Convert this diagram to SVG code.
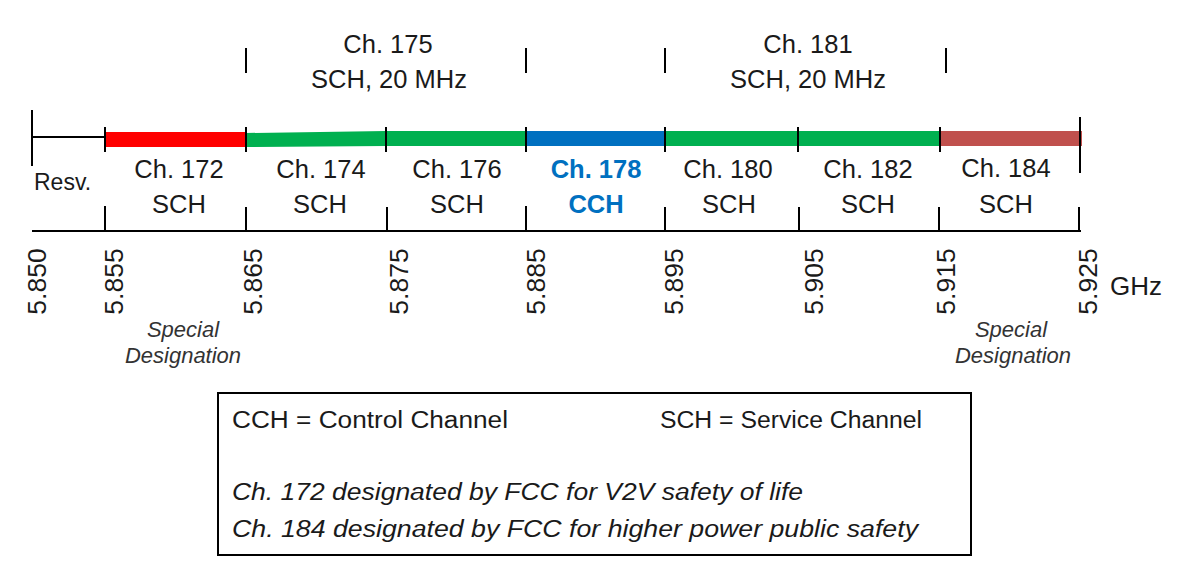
<svg xmlns="http://www.w3.org/2000/svg" width="1185" height="575" viewBox="0 0 1185 575">
<style>
.t{font-family:"Liberation Sans",Arial,sans-serif;fill:#1a1a1a}
.lbl{font-size:25.5px;text-anchor:middle}
.num{font-size:26.5px;text-anchor:middle}
.it{font-family:"Liberation Sans",Arial,sans-serif;font-style:italic;fill:#333}
.tk{stroke:#000;stroke-width:2;fill:none}
</style>
<rect width="1185" height="575" fill="#fff"/>
<g id="bars">
<line class="tk" x1="32" y1="137" x2="105" y2="137" stroke-width="2"/>
<rect x="105" y="132" width="141" height="15" fill="#FF0000"/>
<polygon points="246,133 386,131 386,146 246,147" fill="#00B050"/>
<rect x="386" y="131" width="140" height="15" fill="#00B050"/>
<rect x="526" y="131" width="139" height="15" fill="#0070C0"/>
<rect x="665" y="131" width="275" height="15" fill="#00B050"/>
<rect x="940" y="131" width="142" height="15" fill="#C0504D"/>
</g>
<g id="ticks">
<line class="tk" x1="32" y1="110" x2="32" y2="166"/>
<line class="tk" x1="1080" y1="117" x2="1080" y2="173"/>
<line class="tk" x1="105" y1="127" x2="105" y2="152"/>
<line class="tk" x1="246" y1="127" x2="246" y2="152"/>
<line class="tk" x1="386" y1="127" x2="386" y2="152"/>
<line class="tk" x1="526" y1="127" x2="526" y2="152"/>
<line class="tk" x1="665" y1="127" x2="665" y2="152"/>
<line class="tk" x1="798" y1="127" x2="798" y2="152"/>
<line class="tk" x1="940" y1="127" x2="940" y2="152"/>
<line class="tk" x1="246" y1="48" x2="246" y2="73"/>
<line class="tk" x1="526" y1="48" x2="526" y2="73"/>
<line class="tk" x1="665" y1="48" x2="665" y2="73"/>
<line class="tk" x1="946" y1="48" x2="946" y2="73"/>
<line class="tk" x1="32" y1="231" x2="1081" y2="231"/>
<line class="tk" x1="105" y1="206" x2="105" y2="231"/>
<line class="tk" x1="246" y1="207" x2="246" y2="231"/>
<line class="tk" x1="387" y1="207" x2="387" y2="231"/>
<line class="tk" x1="526" y1="206" x2="526" y2="231"/>
<line class="tk" x1="665" y1="207" x2="665" y2="231"/>
<line class="tk" x1="799" y1="207" x2="799" y2="231"/>
<line class="tk" x1="939" y1="207" x2="939" y2="231"/>
<line class="tk" x1="1079" y1="207" x2="1079" y2="231"/>
</g>
<g id="top-labels">
<text class="t lbl" x="388" y="53">Ch. 175</text>
<text class="t lbl" x="389" y="88">SCH, 20 MHz</text>
<text class="t lbl" x="808" y="53">Ch. 181</text>
<text class="t lbl" x="808" y="88">SCH, 20 MHz</text>
</g>
<g id="channels">
<text class="t" x="34" y="190" font-size="23">Resv.</text>
<text class="t lbl" x="179" y="178">Ch. 172</text>
<text class="t lbl" x="179" y="213">SCH</text>
<text class="t lbl" x="321" y="178">Ch. 174</text>
<text class="t lbl" x="320" y="213">SCH</text>
<text class="t lbl" x="457" y="178">Ch. 176</text>
<text class="t lbl" x="457" y="213">SCH</text>
<text class="t lbl" x="596" y="178" font-weight="bold" style="fill:#0070C0">Ch. 178</text>
<text class="t lbl" x="596" y="213" font-weight="bold" style="fill:#0070C0">CCH</text>
<text class="t lbl" x="728" y="178">Ch. 180</text>
<text class="t lbl" x="729" y="213">SCH</text>
<text class="t lbl" x="868" y="178">Ch. 182</text>
<text class="t lbl" x="868" y="213">SCH</text>
<text class="t lbl" x="1006" y="177">Ch. 184</text>
<text class="t lbl" x="1006" y="213">SCH</text>
</g>
<g id="freqs">
<text class="t num" transform="translate(46,281.5) rotate(-90)">5.850</text>
<text class="t num" transform="translate(123,281.5) rotate(-90)">5.855</text>
<text class="t num" transform="translate(262,281.5) rotate(-90)">5.865</text>
<text class="t num" transform="translate(408,281.5) rotate(-90)">5.875</text>
<text class="t num" transform="translate(545,281.5) rotate(-90)">5.885</text>
<text class="t num" transform="translate(683,281.5) rotate(-90)">5.895</text>
<text class="t num" transform="translate(823,281.5) rotate(-90)">5.905</text>
<text class="t num" transform="translate(955,281.5) rotate(-90)">5.915</text>
<text class="t num" transform="translate(1097,281.5) rotate(-90)">5.925</text>
<text class="t" x="1110" y="295" font-size="26">GHz</text>
</g>
<g id="special">
<text class="it" x="183" y="337" font-size="22" text-anchor="middle">Special</text>
<text class="it" x="183" y="363" font-size="22" text-anchor="middle">Designation</text>
<text class="it" x="1011" y="337" font-size="22" text-anchor="middle">Special</text>
<text class="it" x="1013" y="363" font-size="22" text-anchor="middle">Designation</text>
</g>
<g id="legend">
<rect x="218" y="393" width="753" height="162" fill="none" stroke="#000" stroke-width="2"/>
<text class="t" x="232" y="428" font-size="23" textLength="276" lengthAdjust="spacingAndGlyphs">CCH = Control Channel</text>
<text class="t" x="660" y="428" font-size="23" textLength="262" lengthAdjust="spacingAndGlyphs">SCH = Service Channel</text>
<text class="it" x="232" y="500" font-size="23" textLength="571" lengthAdjust="spacingAndGlyphs" style="fill:#1a1a1a">Ch. 172 designated by FCC for V2V safety of life</text>
<text class="it" x="232" y="537" font-size="23" textLength="686" lengthAdjust="spacingAndGlyphs" style="fill:#1a1a1a">Ch. 184 designated by FCC for higher power public safety</text>
</g>
</svg>
